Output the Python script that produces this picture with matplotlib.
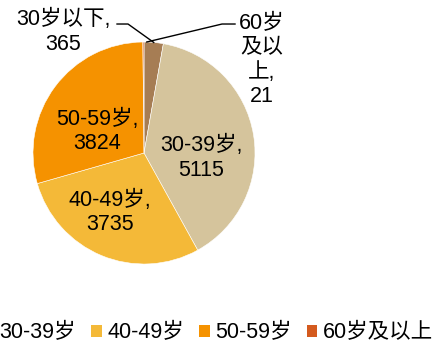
import matplotlib
matplotlib.use("Agg")
import matplotlib.pyplot as plt
from matplotlib.patches import Patch
import numpy as np

plt.rcParams['font.family'] = ['Liberation Sans', 'Noto Sans CJK SC', 'DejaVu Sans']

# data
categories = ['30岁以下', '30-39岁', '40-49岁', '50-59岁', '60岁及以上']
values = [365, 5115, 3735, 3824, 21]
label_texts = ['30岁以下,\n365', '30-39岁,\n5115', '40-49岁,\n3735',
               '50-59岁,\n3824', '60岁\n及以\n上,\n21']
colors = ['#A67D54', '#D5C49C', '#F4B938', '#F59200', '#D45A1E']

# label positions (data units, pie radius = 1)
label_pos = [(-0.73, 1.09), (0.514, -0.045), (-0.306, -0.532),
             (-0.423, 0.198), (1.063, 0.838)]

W, H = 447, 345
cx, cy, r = 144, 153, 111
fig = plt.figure(figsize=(W / 100, H / 100), dpi=100)
ax = fig.add_axes([(cx - r) / W, (H - cy - r) / H, 2 * r / W, 2 * r / H])

wedges, _ = ax.pie(values, colors=colors, startangle=90, counterclock=False,
                   radius=1, wedgeprops=dict(edgecolor='white', linewidth=0.4))
ax.set_xlim(-1, 1)
ax.set_ylim(-1, 1)
ax.set_aspect('equal')
ax.axis('off')

fs = 15.5
for txt, (x, y) in zip(label_texts, label_pos):
    ax.text(x, y, txt, ha='center', va='center', ma='center', fontsize=fs,
            linespacing=1.2, clip_on=False)

# leader lines for the two small slices
def edge_point(w):
    th = np.deg2rad((w.theta1 + w.theta2) / 2)
    return np.cos(th), np.sin(th)

ex, ey = edge_point(wedges[0])
ax.plot([-0.243, -0.144, ex], [1.162, 1.162, ey], color='black', lw=1, clip_on=False)
ex, ey = edge_point(wedges[4])
ax.plot([0.82, 0.703, ex + 0.03], [1.162, 1.162, ey], color='black', lw=1, clip_on=False)

handles = [Patch(facecolor=c, edgecolor='none') for c in colors]
fig.legend(handles, categories, loc='center right', ncol=5, frameon=False,
           bbox_to_anchor=(433 / W, 1 - 333 / H), bbox_transform=fig.transFigure,
           fontsize=fs, handlelength=0.5, handleheight=0.5, handletextpad=0.25,
           columnspacing=0.7, borderpad=0, borderaxespad=0)

fig.savefig('out.png', dpi=100)
